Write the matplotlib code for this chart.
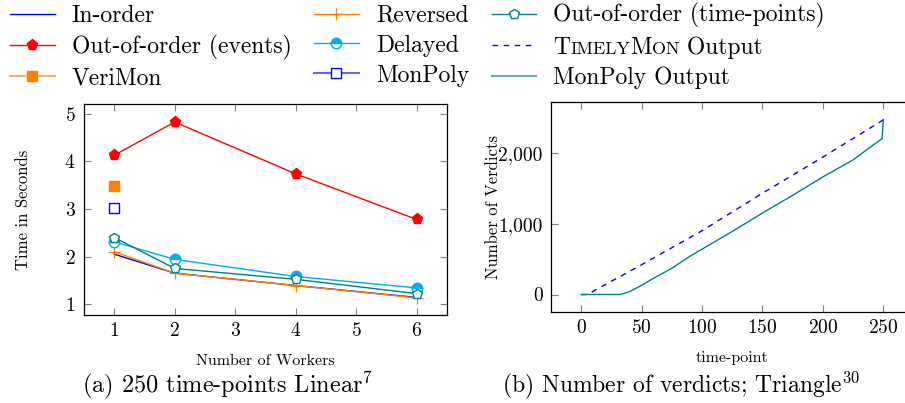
import matplotlib
matplotlib.use("Agg")
import matplotlib.pyplot as plt
from matplotlib.ticker import FuncFormatter, MultipleLocator
from matplotlib.transforms import IdentityTransform
from matplotlib.lines import Line2D

plt.rcParams['font.family'] = 'serif'
plt.rcParams['font.serif'] = ['cmr10']
plt.rcParams['mathtext.fontset'] = 'cm'
plt.rcParams['axes.formatter.use_mathtext'] = True

# ---- data: left panel ----
workers = [1, 2, 4, 6]
in_order = [2.05, 1.65, 1.39, 1.14]
reversed_ = [2.10, 1.65, 1.39, 1.13]
ooo_events = [4.13, 4.83, 3.74, 2.78]
delayed = [2.31, 1.94, 1.58, 1.34]
ooo_tp = [2.40, 1.75, 1.52, 1.22]
verimon_x = [1]
verimon = [3.48]
monpoly_x = [1]
monpoly = [3.02]

# ---- data: right panel ----
timely_t = [0, 5, 50, 100, 150, 200, 250]
timely_v = [0, 0, 420, 900, 1430, 1940, 2465]
monpoly_t = [0, 32, 40, 50, 60, 75, 90, 100, 125, 150, 175, 200, 225, 240, 249, 250]
monpoly_v = [0, 0, 40, 130, 230, 370, 540, 640, 890, 1150, 1400, 1660, 1900, 2090, 2200, 2470]

BLUE = (0, 0, 1)
RED = (1, 0, 0)
ORANGE = (1, 0.5, 0)
CYAN = (0, 0.68, 0.94)
TEAL = (0, 0.5, 0.5)

fig = plt.figure(figsize=(9.05, 4.03), dpi=100)
ax1 = fig.add_axes([0.0928, 0.2184, 0.401, 0.5236])
ax2 = fig.add_axes([0.6088, 0.2258, 0.4006, 0.521])

lw = 1.0
h_in, = ax1.plot(workers, in_order, color=BLUE, lw=lw, label='In-order')
h_rev, = ax1.plot(workers, reversed_, color=ORANGE, lw=lw, marker='+', ms=8, mew=0.9, label='Reversed')
h_ooo, = ax1.plot(workers, ooo_events, color=RED, lw=lw, marker='p', ms=8, label='Out-of-order (events)')
h_del, = ax1.plot(workers, delayed, color=CYAN, lw=lw, marker='o', ms=7.5, fillstyle='top',
                  markerfacecolor=CYAN, markerfacecoloralt='white', markeredgecolor=CYAN, label='Delayed')
h_tp, = ax1.plot(workers, ooo_tp, color=TEAL, lw=lw, marker='p', ms=7, mfc='white', mec=TEAL, label='Out-of-order (time-points)')
h_vm, = ax1.plot(verimon_x, verimon, color=ORANGE, lw=lw, marker='s', ms=7, ls='none', label='VeriMon')
h_mp, = ax1.plot(monpoly_x, monpoly, color=BLUE, lw=lw, marker='s', ms=7, mfc='white', ls='none', label='MonPoly')

h_tm, = ax2.plot(timely_t, timely_v, color=BLUE, lw=lw, dashes=(4, 4), label='TIMELYMON Output')
h_mo, = ax2.plot(monpoly_t, monpoly_v, color=TEAL, lw=lw, label='MonPoly Output')

ax1.set_xlim(0.5, 6.5)
ax1.set_ylim(0.77, 5.21)
ax1.xaxis.set_major_locator(MultipleLocator(1))
ax1.yaxis.set_major_locator(MultipleLocator(1))
ax1.set_xlabel('Number of Workers', fontsize=11.5, labelpad=10)
ax1.set_ylabel('Time in Seconds', fontsize=12, labelpad=24)

ax2.set_xlim(-25, 275)
ax2.set_ylim(-247, 2717)
ax2.xaxis.set_major_locator(MultipleLocator(50))
ax2.yaxis.set_major_locator(MultipleLocator(1000))
ax2.yaxis.set_major_formatter(FuncFormatter(lambda v, p: f"{int(v):,}"))
ax2.set_xlabel('time-point', fontsize=11.5, labelpad=10)
ax2.set_ylabel('Number of Verdicts', fontsize=12, labelpad=-2)

for ax in (ax1, ax2):
    ax.tick_params(direction='in', top=True, right=True, length=5, width=0.8,
                   color=(0.5, 0.5, 0.5), labelsize=14)
    ax.tick_params(axis='x', pad=5)
    ax.tick_params(axis='y', pad=6)
    for s in ax.spines.values():
        s.set_linewidth(0.9)

fig.text(0.252, 0.026, r'(a) 250 time-points Linear$^{7}$', fontsize=17.5, ha='center', va='baseline')
fig.text(0.7525, 0.026, r'(b) Number of verdicts; Triangle$^{30}$', fontsize=17, ha='center', va='baseline')

# legend handles with transparency for some lines
vm_leg = Line2D([], [], color=(1, 0.5, 0, 0.6), lw=1.5, marker='s', ms=7, mfc=ORANGE, mec=ORANGE)
mp_leg = Line2D([], [], color=(0, 0, 1, 0.6), lw=1.5, marker='s', ms=7, mfc='white', mec=BLUE)
mo_leg = Line2D([], [], color=(0, 0.5, 0.5, 0.6), lw=1.5)

handles = [h_in, h_ooo, vm_leg, h_rev, h_del, mp_leg, h_tp, h_tm, mo_leg]
labels = ['In-order', 'Out-of-order (events)', 'VeriMon', 'Reversed', 'Delayed', 'MonPoly',
          'Out-of-order (time-points)', 'TIMELYMON Output', 'MonPoly Output']
leg = fig.legend(handles, labels, ncol=3, loc='upper left', bbox_to_anchor=(0.011, 0.992),
                 frameon=False, fontsize=17, handlelength=1.9, handletextpad=0.72,
                 columnspacing=0.95, labelspacing=0.33, borderaxespad=0, borderpad=0)

# small caps for TimelyMon
fig.canvas.draw()
renderer = fig.canvas.get_renderer()
t = leg.get_texts()[7]
x0, y0 = t.get_transform().transform(t.get_position())
t.set_alpha(0)
big, small = 17, 13
pieces = [('T', big), ('IMELY', small), ('M', big), ('ON', small), (' Output', big)]
x = x0
for s, fs in pieces:
    tt = fig.text(x, y0, s, fontsize=fs, transform=IdentityTransform(), ha='left', va='baseline')
    w = tt.get_window_extent(renderer).width
    x += w

fig.savefig('out.png', dpi=100)
